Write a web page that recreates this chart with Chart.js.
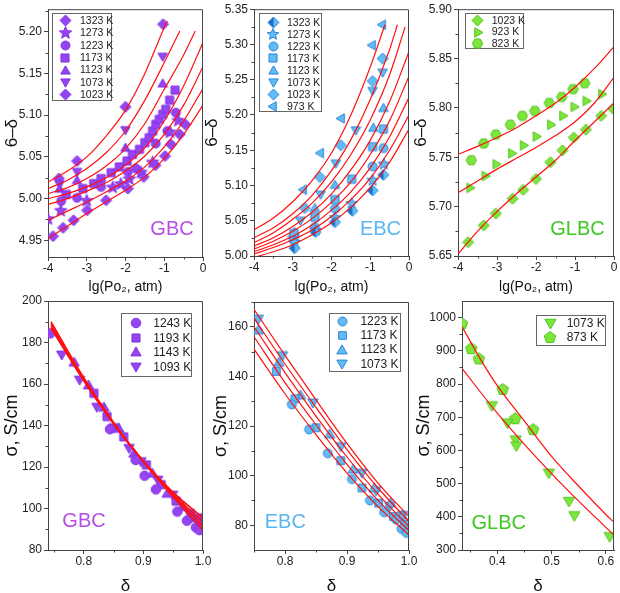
<!DOCTYPE html>
<html>
<head>
<meta charset="utf-8">
<script src="https://cdn.jsdelivr.net/npm/chart.js@4.4.1/dist/chart.umd.min.js"></script>
<style>
body { margin: 0; background: #fff; width: 620px; height: 593px; overflow: hidden; position: relative; }
canvas { position: absolute; }
</style>
</head>
<body>
<canvas id="c1" width="215" height="295" style="left:0;top:0"></canvas>
<canvas id="c2" width="220" height="295" style="left:200px;top:0"></canvas>
<canvas id="c3" width="210" height="295" style="left:410px;top:0"></canvas>
<canvas id="c4" width="215" height="308" style="left:0;top:285px"></canvas>
<canvas id="c5" width="220" height="308" style="left:200px;top:285px"></canvas>
<canvas id="c6" width="210" height="308" style="left:410px;top:285px"></canvas>
<script>
// ticks
const lgTicks = [-4, -3, -2, -1, 0];
const lgMinor = [-3.5, -2.5, -1.5, -0.5];
const gbcDevTicks = [4.95, 5.00, 5.05, 5.10, 5.15, 5.20];
const gbcDevMinor = [4.975, 5.025, 5.075, 5.125, 5.175, 5.225];
const ebcDevTicks = [5.00, 5.05, 5.10, 5.15, 5.20, 5.25, 5.30, 5.35];
const ebcDevMinor = [5.025, 5.075, 5.125, 5.175, 5.225, 5.275, 5.325];
const glbcDevTicks = [5.65, 5.70, 5.75, 5.80, 5.85, 5.90];
const glbcDevMinor = [5.675, 5.725, 5.775, 5.825, 5.875];
const deltaTicks = [0.8, 0.9, 1.0];
const deltaMinor = [0.75, 0.85, 0.95];
const gbcSigTicks = [80, 100, 120, 140, 160, 180, 200];
const gbcSigMinor = [90, 110, 130, 150, 170, 190];
const ebcSigTicks = [80, 100, 120, 140, 160];
const ebcSigMinor = [90, 110, 130, 150, 170];
const glbcDeltaTicks = [0.4, 0.5, 0.6];
const glbcDeltaMinor = [0.35, 0.45, 0.55];
const glbcSigTicks = [300, 400, 500, 600, 700, 800, 900, 1000];
const glbcSigMinor = [350, 450, 550, 650, 750, 850, 950];

// GBC: 6-delta vs lg(pO2)
const gbcDev1323 = [[-3.87,4.955],[-3.61,4.965],[-3.34,4.974],[-2.99,4.986],[-2.50,4.998],[-1.94,5.012],[-1.53,5.026],[-1.23,5.040],[-0.98,5.051],[-0.83,5.065],[-0.60,5.077],[-0.46,5.089]];
const gbcDev1273 = [[-4.0,4.976],[-3.67,4.986],[-3.0,4.998],[-2.33,5.014],[-2.12,5.018],[-1.90,5.024],[-1.60,5.032],[-1.30,5.044],[-0.85,5.080],[-0.64,5.094]];
const gbcDev1223 = [[-3.66,4.997],[-3.25,5.001],[-2.63,5.014],[-1.94,5.032],[-1.73,5.036],[-1.22,5.066],[-0.92,5.081],[-0.70,5.103]];
const gbcDev1173 = [[-3.53,5.005],[-3.10,5.012],[-2.82,5.018],[-2.63,5.024],[-2.37,5.031],[-2.16,5.038],[-1.96,5.045],[-1.82,5.053],[-1.64,5.059],[-1.50,5.067],[-1.39,5.073],[-1.30,5.081],[-1.22,5.089],[-1.13,5.095],[-1.04,5.101],[-0.96,5.107],[-0.86,5.118],[-0.72,5.130]];
const gbcDev1123 = [[-3.70,5.012],[-3.25,5.022],[-2.0,5.061],[-1.04,5.138]];
const gbcDev1073 = [[-3.70,5.017],[-3.25,5.032],[-2.0,5.082],[-1.04,5.170]];
const gbcDev1023 = [[-3.72,5.024],[-3.25,5.045],[-2.0,5.110],[-1.03,5.209]];
const gbcDevFit1023 = [[-4,5.020],[-3.5,5.033],[-3,5.050],[-2.5,5.075],[-2,5.106],[-1.5,5.150],[-1,5.205],[-0.92,5.213]];
const gbcDevFit1073 = [[-4,5.012],[-3.5,5.022],[-3,5.036],[-2.5,5.055],[-2,5.081],[-1.5,5.118],[-1,5.163],[-0.6,5.201]];
const gbcDevFit1123 = [[-4,5.006],[-3.5,5.013],[-3,5.024],[-2.5,5.039],[-2,5.060],[-1.5,5.090],[-1,5.131],[-0.5,5.172],[-0.2,5.201]];
const gbcDevFit1173 = [[-4,5.000],[-3.5,5.006],[-3,5.014],[-2.5,5.025],[-2,5.040],[-1.5,5.061],[-1,5.093],[-0.5,5.135],[0,5.187]];
const gbcDevFit1223 = [[-4,4.993],[-3.5,5.000],[-3,5.009],[-2.5,5.019],[-2,5.033],[-1.5,5.051],[-1,5.077],[-0.5,5.112],[0,5.158]];
const gbcDevFit1273 = [[-4,4.974],[-3.5,4.985],[-3,4.996],[-2.5,5.008],[-2,5.021],[-1.5,5.038],[-1,5.062],[-0.5,5.093],[0,5.132]];
const gbcDevFit1323 = [[-4,4.952],[-3.5,4.967],[-3,4.982],[-2.5,4.996],[-2,5.010],[-1.5,5.026],[-1,5.048],[-0.5,5.077],[0,5.112]];

// EBC: 6-delta vs lg(pO2)
const ebcDev1323 = [[-2.95,5.011],[-2.41,5.034],[-1.91,5.048],[-1.46,5.064],[-0.94,5.093],[-0.66,5.115]];
const ebcDev1273 = [[-2.95,5.020],[-2.41,5.037],[-1.91,5.055],[-1.48,5.075],[-0.94,5.108],[-0.65,5.131]];
const ebcDev1223 = [[-2.97,5.022],[-2.43,5.041],[-1.91,5.067],[-0.94,5.127],[-0.66,5.153]];
const ebcDev1173 = [[-2.97,5.032],[-2.43,5.055],[-1.91,5.080],[-1.48,5.109],[-0.94,5.155],[-0.66,5.180]];
const ebcDev1123 = [[-2.95,5.034],[-2.43,5.068],[-1.91,5.101],[-0.92,5.182],[-0.66,5.210]];
const ebcDev1073 = [[-2.80,5.050],[-2.28,5.087],[-1.89,5.131],[-1.37,5.178],[-0.94,5.234],[-0.68,5.260]];
const ebcDev1023 = [[-2.99,5.027],[-2.69,5.068],[-2.30,5.112],[-1.76,5.157],[-0.94,5.248],[-0.68,5.280]];
const ebcDev973 = [[-2.72,5.094],[-2.28,5.146],[-1.74,5.195],[-0.94,5.299],[-0.68,5.328]];
const ebcDevFit1323 = [[-4,4.998],[-3.5,5.006],[-3,5.016],[-2.5,5.030],[-2,5.047],[-1.5,5.069],[-1,5.097],[-0.5,5.133],[0,5.180]];
const ebcDevFit1273 = [[-4,5.003],[-3.5,5.012],[-3,5.023],[-2.5,5.037],[-2,5.056],[-1.5,5.080],[-1,5.110],[-0.5,5.150],[0,5.200]];
const ebcDevFit1223 = [[-4,5.006],[-3.5,5.016],[-3,5.028],[-2.5,5.044],[-2,5.065],[-1.5,5.091],[-1,5.125],[-0.5,5.169],[0,5.225]];
const ebcDevFit1173 = [[-4,5.010],[-3.5,5.021],[-3,5.035],[-2.5,5.053],[-2,5.076],[-1.5,5.105],[-1,5.144],[-0.5,5.192],[0,5.255]];
const ebcDevFit1123 = [[-4,5.014],[-3.5,5.026],[-3,5.042],[-2.5,5.062],[-2,5.088],[-1.5,5.122],[-1,5.164],[-0.5,5.219],[0,5.290]];
const ebcDevFit1073 = [[-4,5.019],[-3.5,5.033],[-3,5.052],[-2.5,5.075],[-2,5.105],[-1.5,5.144],[-1,5.193],[-0.5,5.257],[-0.1,5.325]];
const ebcDevFit1023 = [[-4,5.026],[-3.5,5.040],[-3,5.060],[-2.5,5.086],[-2,5.121],[-1.5,5.165],[-1,5.222],[-0.5,5.293],[-0.3,5.328]];
const ebcDevFit973 = [[-4,5.037],[-3.5,5.054],[-3,5.077],[-2.5,5.107],[-2,5.146],[-1.5,5.200],[-1,5.268],[-0.62,5.328]];

// GLBC: 6-delta vs lg(pO2)
const glbcDev1023 = [[-3.74,5.664],[-3.34,5.681],[-3.03,5.693],[-2.60,5.708],[-2.33,5.717],[-2.00,5.728],[-1.63,5.745],[-1.32,5.757],[-1.03,5.770],[-0.72,5.778],[-0.33,5.792],[-0.02,5.799]];
const glbcDev923 = [[-3.70,5.719],[-3.31,5.731],[-3.03,5.743],[-2.63,5.754],[-2.33,5.762],[-2.00,5.771],[-1.63,5.783],[-1.32,5.792],[-1.03,5.801],[-0.72,5.807],[-0.32,5.814]];
const glbcDev823 = [[-3.66,5.747],[-3.34,5.764],[-3.03,5.773],[-2.66,5.783],[-2.35,5.792],[-2.03,5.797],[-1.66,5.805],[-1.34,5.811],[-1.05,5.819],[-0.75,5.825]];
const glbcDevFit1023 = [[-4,5.652],[-3.5,5.675],[-3,5.695],[-2.5,5.713],[-2,5.730],[-1.5,5.747],[-1,5.767],[-0.5,5.786],[0,5.805]];
const glbcDevFit923 = [[-4,5.714],[-3.5,5.726],[-3,5.738],[-2.5,5.749],[-2,5.760],[-1.5,5.772],[-1,5.786],[-0.5,5.805],[0,5.831]];
const glbcDevFit823 = [[-4,5.753],[-3.5,5.761],[-3,5.770],[-2.5,5.780],[-2,5.792],[-1.5,5.805],[-1,5.821],[-0.5,5.840],[0,5.862]];

// GBC: sigma vs delta
const gbcSig1243 = [[0.744,184.4],[0.844,138.2],[0.887,123.4],[0.902,115.8],[0.921,109.2],[0.957,98.5],[0.973,94.1],[0.988,90.9],[0.994,89.6]];
const gbcSig1193 = [[0.817,155.5],[0.839,144.3],[0.867,134.5],[0.905,121.0],[0.930,111.5],[0.955,103.5],[0.980,96.5],[0.997,93.0]];
const gbcSig1143 = [[0.784,170.5],[0.808,159.5],[0.834,148.8],[0.859,138.6],[0.884,126.6],[0.915,117.0],[0.940,107.3],[0.966,100.9],[0.985,95.5]];
const gbcSig1093 = [[0.763,174.0],[0.793,161.9],[0.822,148.8],[0.851,139.0],[0.876,129.0],[0.896,122.6],[0.924,113.7],[0.949,106.5],[0.977,97.7],[0.997,95.5]];
const gbcSigFit1243 = [[0.745,190],[0.8,163],[0.85,141.5],[0.9,122.5],[0.95,105.5],[1.0,89.5]];
const gbcSigFit1193 = [[0.745,189],[0.8,162.5],[0.85,141.2],[0.9,122.6],[0.95,106.2],[1.0,91.5]];
const gbcSigFit1143 = [[0.745,188],[0.8,162],[0.85,141],[0.9,122.7],[0.95,107],[1.0,93.5]];
const gbcSigFit1093 = [[0.745,187],[0.8,161.5],[0.85,140.8],[0.9,122.8],[0.95,107.8],[1.0,95.5]];

// EBC: sigma vs delta
const ebcSig1223 = [[0.811,128.7],[0.839,118.6],[0.869,109.0],[0.908,98.6],[0.937,90.0],[0.960,85.2],[0.979,82.3],[0.988,78.5],[0.996,76.9]];
const ebcSig1173 = [[0.786,142.0],[0.816,131.0],[0.850,119.3],[0.890,106.0],[0.924,95.0],[0.951,88.9],[0.975,83.5],[0.993,80.3]];
const ebcSig1123 = [[0.757,158.7],[0.790,145.7],[0.825,132.4],[0.872,116.7],[0.910,102.6],[0.944,95.0],[0.970,89.0],[0.989,84.0]];
const ebcSig1073 = [[0.757,163.1],[0.796,148.4],[0.845,129.3],[0.890,111.7],[0.924,101.0],[0.947,93.9],[0.969,87.6],[0.990,84.0]];
const ebcSigFitA = [[0.75,167],[0.8,148.5],[0.85,130.5],[0.9,113],[0.95,97],[1.0,83.5]];
const ebcSigFitB = [[0.75,163.5],[0.8,145],[0.85,127.5],[0.9,110.5],[0.95,95],[1.0,81.5]];
const ebcSigFitC = [[0.75,160],[0.8,141.5],[0.85,124],[0.9,107.5],[0.95,92.5],[1.0,79.5]];
const ebcSigFitD = [[0.75,156],[0.8,137.5],[0.85,120.5],[0.9,104.5],[0.95,90],[1.0,77.8]];
const ebcSigFitE = [[0.75,151],[0.8,133],[0.85,116.5],[0.9,101],[0.95,87.5],[1.0,76]];

// GLBC: sigma vs delta
const glbcSig1073 = [[0.390,734],[0.419,682],[0.434,631],[0.435,613],[0.495,531],[0.532,446],[0.542,403],[0.607,340]];
const glbcSig873 = [[0.335,983],[0.352,908],[0.366,877],[0.410,785],[0.433,697],[0.466,664]];
const glbcSigFit873 = [[0.335,973],[0.37,872],[0.4,795],[0.45,688],[0.5,582],[0.55,492],[0.6,407],[0.613,386]];
const glbcSigFit1073 = [[0.335,847],[0.4,712],[0.45,618],[0.5,530],[0.55,447],[0.6,368],[0.613,348]];

const FONT = '"Liberation Sans", Arial, sans-serif';
Chart.defaults.font.family = FONT;
Chart.defaults.color = '#222';
Chart.defaults.animation = false;

// marker images
function marker(shape, d, fill, stroke, dark) {
    const s = Math.ceil(d) + 4;
    const c = document.createElement('canvas');
    c.width = s; c.height = s;
    const g = c.getContext('2d');
    const m = s / 2, r = d / 2;
    const p = new Path2D();
    const ngon = (n, rr, a0, dy) => {
        for (let i = 0; i < n; i++) {
            const a = a0 + i * 2 * Math.PI / n;
            const px = m + rr * Math.cos(a), py = m + (dy || 0) + rr * Math.sin(a);
            if (i) p.lineTo(px, py); else p.moveTo(px, py);
        }
        p.closePath();
    };
    if (shape === 'circle') p.arc(m, m, r, 0, 2 * Math.PI);
    else if (shape === 'square') p.rect(m - r * 0.85, m - r * 0.85, r * 1.7, r * 1.7);
    else if (shape === 'diamond' || shape === 'halfDiamond') ngon(4, r, -Math.PI / 2);
    else if (shape === 'up') ngon(3, r, -Math.PI / 2, r * 0.15);
    else if (shape === 'down') ngon(3, r, Math.PI / 2, -r * 0.15);
    else if (shape === 'left') ngon(3, r, Math.PI);
    else if (shape === 'right') ngon(3, r, 0);
    else if (shape === 'hexagon') ngon(6, r, 0);
    else if (shape === 'pentagon') ngon(5, r, -Math.PI / 2, r * 0.1);
    else if (shape === 'star') {
        for (let i = 0; i < 10; i++) {
            const a = -Math.PI / 2 + i * Math.PI / 5;
            const rr = i % 2 ? r * 0.45 : r;
            const px = m + rr * Math.cos(a), py = m + r * 0.08 + rr * Math.sin(a);
            if (i) p.lineTo(px, py); else p.moveTo(px, py);
        }
        p.closePath();
    }
    g.fillStyle = fill;
    g.fill(p);
    if (dark) {
        g.save(); g.clip(p); g.fillStyle = dark; g.fillRect(0, 0, m, s); g.restore();
    }
    g.strokeStyle = stroke; g.lineWidth = 1;
    g.stroke(p);
    return c;
}

const PF = '#9544f2', PS = '#8434e4';
const BF = '#62bcf4', BS = '#2c86dc', BD = '#1f6cc6';
const GF = '#7de63c', GS = '#55c320';

function pts(arr) { return arr.map(p => ({ x: p[0], y: p[1] })); }
function fit(arr, w) {
    return { type: 'line', data: pts(arr), borderColor: '#ff1010', borderWidth: w || 1.2, pointRadius: 0, fill: false, cubicInterpolationMode: 'monotone', order: 0 };
}
function mark(label, arr, img) {
    return { type: 'scatter', label, data: pts(arr), pointStyle: img, pointRadius: 5, order: 1 };
}

function lin(min, max, tickVals, digits, title, size, pad, fitSize, isX, lh) {
    return {
        type: 'linear', min, max,
        afterBuildTicks: s => { s.ticks = tickVals.map(v => ({ value: v })); },
        afterFit: s => { if (isX) s.height = fitSize; else s.width = fitSize; },
        grid: { drawOnChartArea: false, drawTicks: true, tickLength: 4, color: '#444' },
        border: { display: true, color: '#444', width: 1 },
        ticks: { autoSkip: false, maxRotation: 0, padding: isX ? 0 : 2, font: { size: 12 }, color: '#222', callback: v => (+v).toFixed(digits) },
        title: { display: true, text: title, color: '#111', font: { size, lineHeight: lh || 1.1 }, padding: isX ? { top: 0, bottom: pad } : { top: pad, bottom: 0 } }
    };
}

// frame, minor ticks, legend box, sample label
const panelDeco = {
    id: 'panelDeco',
    afterDraw(chart, args, o) {
        const { ctx, chartArea: a, scales: { x, y } } = chart;
        ctx.save();
        ctx.strokeStyle = '#444'; ctx.lineWidth = 1;
        ctx.beginPath();
        ctx.moveTo(a.left, a.top + 0.5); ctx.lineTo(a.right - 0.5, a.top + 0.5); ctx.lineTo(a.right - 0.5, a.bottom);
        o.xMinor.forEach(v => { const px = Math.round(x.getPixelForValue(v)) + 0.5; ctx.moveTo(px, a.bottom); ctx.lineTo(px, a.bottom + 2.5); });
        o.yMinor.forEach(v => { const py = Math.round(y.getPixelForValue(v)) + 0.5; ctx.moveTo(a.left, py); ctx.lineTo(a.left - 2.5, py); });
        ctx.stroke();

        ctx.font = '20px ' + FONT;
        ctx.fillStyle = o.labelColor; ctx.textAlign = 'center'; ctx.textBaseline = 'middle';
        ctx.fillText(o.label, o.labelX, o.labelY);

        const L = o.legend;
        ctx.fillStyle = '#fff';
        ctx.fillRect(L.x, L.y, L.w, L.h);
        ctx.strokeStyle = '#666';
        ctx.strokeRect(L.x + 0.5, L.y + 0.5, L.w, L.h);
        ctx.font = L.font + 'px ' + FONT;
        ctx.textAlign = 'left'; ctx.fillStyle = '#222';
        chart.data.datasets.filter(d => d.label).forEach((d, i) => {
            const yy = L.y0 + i * L.step;
            const img = d.pointStyle;
            ctx.drawImage(img, Math.round(L.x + L.mx - img.width / 2), Math.round(yy - img.height / 2));
            ctx.fillText(d.label, L.x + L.tx, yy + 0.5);
        });
        ctx.restore();
    }
};

function panel(id, datasets, xs, ys, pad, deco) {
    new Chart(document.getElementById(id), {
        type: 'scatter',
        data: { datasets },
        options: {
            responsive: false,
            layout: { padding: { left: 0, top: pad.top, right: pad.right, bottom: 0 } },
            scales: { x: xs, y: ys },
            plugins: { legend: { display: false }, tooltip: { enabled: false }, panelDeco: deco }
        },
        plugins: [panelDeco]
    });
}

const lgTitle = 'lg(Po\u2082, atm)';

// GBC top
panel('c1', [
    mark('1323 K', gbcDev1323, marker('diamond', 11, PF, PS)),
    mark('1273 K', gbcDev1273, marker('star', 13, PF, PS)),
    mark('1223 K', gbcDev1223, marker('circle', 9, PF, PS)),
    mark('1173 K', gbcDev1173, marker('square', 9.5, PF, PS)),
    mark('1123 K', gbcDev1123, marker('up', 11, PF, PS)),
    mark('1073 K', gbcDev1073, marker('down', 11, PF, PS)),
    mark('1023 K', gbcDev1023, marker('diamond', 11, PF, PS)),
    fit(gbcDevFit1023), fit(gbcDevFit1073), fit(gbcDevFit1123), fit(gbcDevFit1173),
    fit(gbcDevFit1223), fit(gbcDevFit1273), fit(gbcDevFit1323)
], lin(-4, 0, lgTicks, 0, lgTitle, 14, 0, 38, true),
   lin(4.93, 5.227, gbcDevTicks, 2, '6\u2013\u03b4', 17, 3, 48, false),
   { top: 5, right: 12 },
   { xMinor: lgMinor, yMinor: gbcDevMinor, label: 'GBC', labelColor: '#b64de6', labelX: 172, labelY: 229,
     legend: { x: 52, y: 13, w: 59, h: 87, y0: 20.5, step: 12.4, mx: 13, tx: 28, font: 10.5 } });

// EBC top
panel('c2', [
    mark('1323 K', ebcDev1323, marker('halfDiamond', 11, BF, BS, BD)),
    mark('1273 K', ebcDev1273, marker('star', 12, BF, BS)),
    mark('1223 K', ebcDev1223, marker('circle', 9, BF, BS)),
    mark('1173 K', ebcDev1173, marker('square', 9.5, BF, BS)),
    mark('1123 K', ebcDev1123, marker('up', 11, BF, BS)),
    mark('1073 K', ebcDev1073, marker('down', 11, BF, BS)),
    mark('1023 K', ebcDev1023, marker('diamond', 11, BF, BS)),
    mark('973 K', ebcDev973, marker('left', 11, BF, BS)),
    fit(ebcDevFit973), fit(ebcDevFit1023), fit(ebcDevFit1073), fit(ebcDevFit1123),
    fit(ebcDevFit1173), fit(ebcDevFit1223), fit(ebcDevFit1273), fit(ebcDevFit1323)
], lin(-4, 0, lgTicks, 0, lgTitle, 14, 0, 39, true),
   lin(5.00, 5.35, ebcDevTicks, 2, '6\u2013\u03b4', 17, 3, 54, false),
   { top: 7, right: 11 },
   { xMinor: lgMinor, yMinor: ebcDevMinor, label: 'EBC', labelColor: '#5ab6f0', labelX: 180.5, labelY: 229,
     legend: { x: 59, y: 13, w: 62, h: 98, y0: 22.3, step: 12, mx: 14, tx: 28, font: 10.5 } });

// GLBC top
panel('c3', [
    mark('1023 K', glbcDev1023, marker('diamond', 11, GF, GS)),
    mark('923 K', glbcDev923, marker('right', 11, GF, GS)),
    mark('823 K', glbcDev823, marker('hexagon', 10.5, GF, GS)),
    fit(glbcDevFit1023), fit(glbcDevFit923), fit(glbcDevFit823)
], lin(-4, 0, lgTicks, 0, lgTitle, 14, 0, 39, true),
   lin(5.65, 5.90, glbcDevTicks, 2, '6\u2013\u03b4', 17, 2, 48, false),
   { top: 7, right: 5 },
   { xMinor: lgMinor, yMinor: glbcDevMinor, label: 'GLBC', labelColor: '#3ec824', labelX: 167.5, labelY: 229,
     legend: { x: 55, y: 13, w: 58, h: 35, y0: 20.7, step: 11.3, mx: 12.7, tx: 26.7, font: 10.5 } });

// GBC bottom
panel('c4', [
    mark('1243 K', gbcSig1243, marker('circle', 9.5, PF, PS)),
    mark('1193 K', gbcSig1193, marker('square', 9.5, PF, PS)),
    mark('1143 K', gbcSig1143, marker('up', 12, PF, PS)),
    mark('1093 K', gbcSig1093, marker('down', 12, PF, PS)),
    fit(gbcSigFit1243, 1.6), fit(gbcSigFit1193, 1.6), fit(gbcSigFit1143, 1.6), fit(gbcSigFit1093, 1.6)
], lin(0.74, 1.0, deltaTicks, 1, '\u03b4', 17, 0, 43, true, 0.75),
   lin(80, 200, gbcSigTicks, 0, '\u03c3, S/cm', 18, 2, 48, false),
   { top: 16, right: 12 },
   { xMinor: deltaMinor, yMinor: gbcSigMinor, label: 'GBC', labelColor: '#b64de6', labelX: 84, labelY: 236,
     legend: { x: 121, y: 28, w: 70, h: 63, y0: 38.3, step: 14.5, mx: 14.7, tx: 32.3, font: 12 } });

// EBC bottom
panel('c5', [
    mark('1223 K', ebcSig1223, marker('circle', 9, BF, BS)),
    mark('1173 K', ebcSig1173, marker('square', 9, BF, BS)),
    mark('1123 K', ebcSig1123, marker('up', 12, BF, BS)),
    mark('1073 K', ebcSig1073, marker('down', 12, BF, BS)),
    fit(ebcSigFitA), fit(ebcSigFitB), fit(ebcSigFitC), fit(ebcSigFitD), fit(ebcSigFitE)
], lin(0.75, 1.0, deltaTicks, 1, '\u03b4', 17, 0, 43, true, 0.75),
   lin(70, 170, ebcSigTicks, 0, '\u03c3, S/cm', 18, 11, 54, false),
   { top: 17, right: 11 },
   { xMinor: deltaMinor, yMinor: ebcSigMinor, label: 'EBC', labelColor: '#5ab6f0', labelX: 85.3, labelY: 237,
     legend: { x: 129, y: 28, w: 71, h: 58, y0: 36, step: 14.3, mx: 13.4, tx: 31.4, font: 12 } });

// GLBC bottom
panel('c6', [
    mark('1073 K', glbcSig1073, marker('down', 13, GF, GS)),
    mark('873 K', glbcSig873, marker('pentagon', 12, GF, GS)),
    fit(glbcSigFit873), fit(glbcSigFit1073)
], lin(0.335, 0.615, glbcDeltaTicks, 1, '\u03b4', 17, 0, 43, true, 0.75),
   lin(300, 1050, glbcSigTicks, 0, '\u03c3, S/cm', 18, 4, 52, false),
   { top: 16, right: 5 },
   { xMinor: glbcDeltaMinor, yMinor: glbcSigMinor, label: 'GLBC', labelColor: '#3ec824', labelX: 88.7, labelY: 238,
     legend: { x: 126, y: 30, w: 69, h: 30, y0: 38.3, step: 13.4, mx: 14, tx: 30.7, font: 12 } });
</script>
</body>
</html>
